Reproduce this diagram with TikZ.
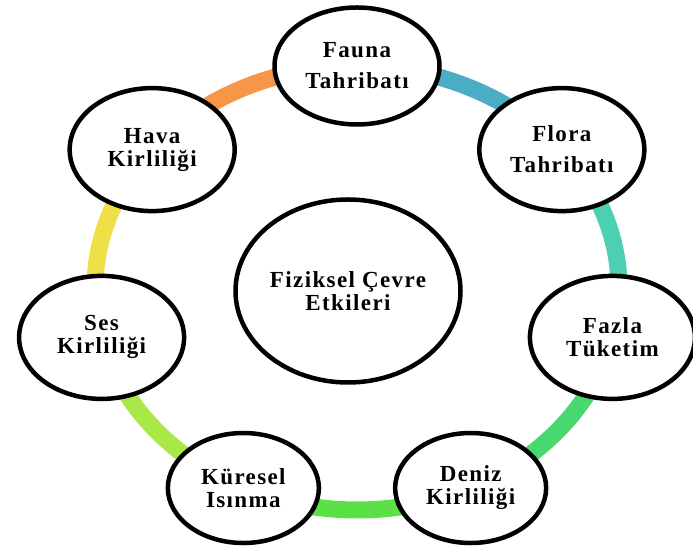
\documentclass[tikz,border=0pt]{standalone}
\usepackage{fontspec}
\setmainfont{Liberation Serif}
\usetikzlibrary{shapes.geometric,calc,backgrounds}
\definecolor{ringorange}{RGB}{247,150,70}
\definecolor{ringblue}{RGB}{75,172,198}
\definecolor{ringteal}{RGB}{77,208,177}
\definecolor{ringmint}{RGB}{72,216,112}
\definecolor{ringgreen}{RGB}{92,224,72}
\definecolor{ringlime}{RGB}{170,232,72}
\definecolor{ringyellow}{RGB}{238,224,70}

\begin{document}
\begin{tikzpicture}[x=1pt,y=1pt,
  spot/.style={ellipse,draw,line width=4.5pt,fill=white,inner sep=0pt,
    minimum width=165,minimum height=123,align=center,
    font=\bfseries\fontsize{23}{23}\selectfont\addfontfeatures{LetterSpace=6}},
  band/.style={line width=17pt}]
  \useasboundingbox (0,0) rectangle (693,556);
  \coordinate (ring) at (357,268);
  \node[spot,minimum width=225,minimum height=183] (centre) at (348,265)
    {Fiziksel Çevre\\Etkileri};
  \node[spot,minimum height=117] (fauna) at ($(ring)+(90:262 and 222)$) {Fauna\\[8pt]Tahribatı};
  \node[spot] (flora) at ($(ring)+(38.57:262 and 222)$) {Flora\\[8pt]Tahribatı};
  \node[spot] (fazla) at ($(ring)+(-12.86:262 and 222)$) {Fazla\\Tüketim};
  \node[spot,minimum width=151,minimum height=110] (deniz) at ($(ring)+(-64.29:262 and 222)$) {Deniz\\Kirliliği};
  \node[spot,minimum width=151,minimum height=110] (kuresel) at ($(ring)+(-115.71:262 and 222)$) {Küresel\\Isınma};
  \node[spot] (ses) at ($(ring)+(-167.14:262 and 222)$) {Ses\\Kirliliği};
  \node[spot] (hava) at ($(ring)+(141.43:262 and 222)$) {Hava\\Kirliliği};
  % coloured ring behind the nodes
  \begin{scope}[on background layer]
    \foreach \from/\a/\col in {fauna/90/ringblue,flora/38.57/ringteal,fazla/-12.86/ringmint,
      deniz/-64.29/ringgreen,kuresel/-115.71/ringlime,ses/-167.14/ringyellow,hava/141.43/ringorange}
      \draw[band,\col] (\from.center) arc[start angle=\a,end angle=\a-51.43,x radius=262,y radius=222];
  \end{scope}
\end{tikzpicture}
\end{document}
